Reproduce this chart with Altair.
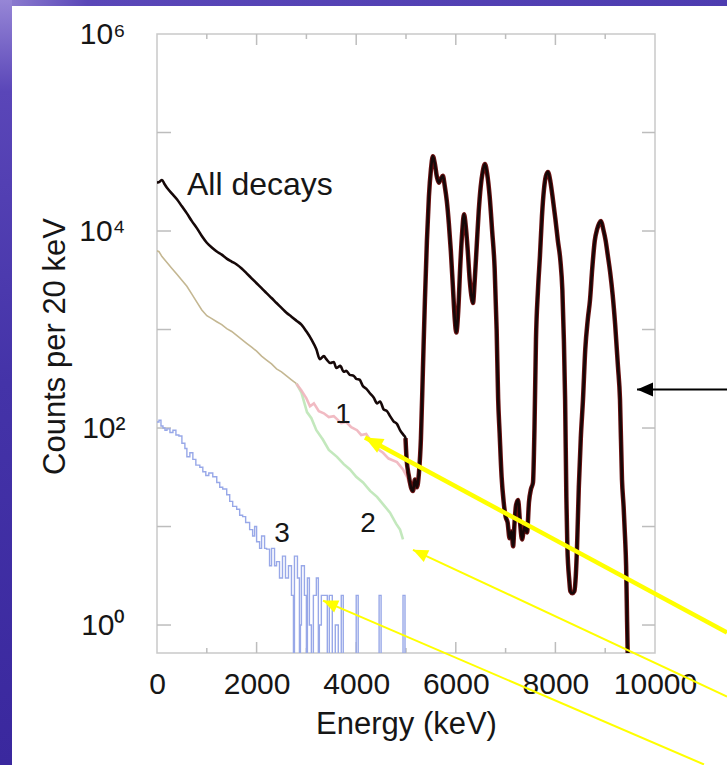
import altair as alt
import pandas as pd

# ---------------- data ----------------
# "All decays" spectrum (energy keV, counts per 20 keV)
all_decays = [
    (0, 31000), (50, 31600), (100, 33000), (150, 30000), (200, 27500), (300, 24000),
    (400, 21000), (500, 17800), (600, 15100), (700, 12600), (800, 10700), (900, 8900),
    (1000, 7600), (1100, 6800), (1200, 6200), (1300, 5750), (1400, 5250), (1500, 4900),
    (1600, 4570), (1700, 4170), (1800, 3720), (1900, 3310), (2000, 2950), (2100, 2630),
    (2200, 2340), (2300, 2090), (2400, 1860), (2500, 1660), (2600, 1480), (2700, 1350),
    (2800, 1230), (2900, 1120), (3000, 955), (3100, 795), (3200, 630), (3270, 500),
    (3350, 537), (3400, 500), (3480, 457), (3550, 468), (3600, 407), (3680, 427),
    (3750, 372), (3800, 380), (3870, 347), (3950, 339), (4000, 316), (4070, 309),
    (4130, 269), (4200, 251), (4280, 224), (4350, 204), (4420, 178), (4480, 186),
    (4550, 155), (4620, 148), (4680, 132), (4750, 117), (4820, 110), (4880, 95),
    (4950, 85), (4990, 79), (5010, 50), (5060, 32), (5100, 25), (5140, 23),
    (5180, 30), (5220, 25), (5260, 35), (5300, 79), (5340, 400), (5380, 2000),
    (5420, 7940), (5460, 22400), (5500, 41700), (5540, 57500), (5580, 47900),
    (5620, 35500), (5660, 30900), (5700, 33900), (5740, 36300), (5780, 28200),
    (5820, 20000), (5860, 12000), (5900, 6300), (5940, 2820), (5980, 1260),
    (6010, 933), (6050, 1580), (6090, 4470), (6130, 10000), (6165, 14800),
    (6200, 11200), (6240, 6300), (6280, 3160), (6320, 2090), (6345, 1860),
    (6380, 3160), (6420, 7080), (6460, 15800), (6500, 28200), (6540, 39800),
    (6586, 47900), (6630, 38000), (6680, 22400), (6730, 10000), (6780, 4170),
    (6820, 1000), (6850, 200), (6880, 89), (6920, 32), (6960, 18), (7000, 12.6),
    (7040, 11), (7080, 7.6), (7120, 8.9), (7150, 6.3), (7180, 11), (7210, 16.6),
    (7250, 18.6), (7290, 11), (7330, 7.4), (7380, 10), (7430, 8.7), (7470, 17.8),
    (7510, 24), (7550, 28), (7580, 100), (7610, 794), (7650, 2510), (7690, 5620),
    (7730, 14100), (7770, 26300), (7810, 36300), (7851, 39800), (7900, 31600),
    (7950, 20900), (8000, 13200), (8050, 7940), (8100, 5010), (8140, 2510),
    (8170, 794), (8195, 195), (8220, 20), (8240, 6.3), (8280, 2.8), (8300, 2.2),
    (8340, 2.1), (8380, 2.2), (8410, 3.2), (8435, 6.3), (8470, 25), (8510, 79),
    (8554, 195), (8600, 631), (8650, 1260), (8695, 2000), (8740, 4170), (8790, 7940),
    (8840, 10500), (8880, 12000), (8916, 12600), (8960, 10500), (9010, 7940),
    (9050, 5750), (9100, 3800), (9150, 2240), (9200, 1120), (9257, 417), (9297, 195),
    (9337, 30), (9370, 15.8), (9398, 7.9), (9420, 4), (9440, 1.07), (9460, 0.3),
]

# common part of spectra 1 and 2 (drawn tan where they overlap)
common_12 = [
    (0, 6300), (40, 6170), (100, 5500), (200, 4790), (300, 4170), (400, 3630),
    (500, 3160), (600, 2750), (700, 2290), (800, 1900), (900, 1580), (1000, 1380),
    (1100, 1290), (1200, 1200), (1300, 1120), (1400, 1020), (1500, 955), (1600, 871),
    (1700, 794), (1800, 724), (1900, 661), (2000, 603), (2100, 537), (2200, 490),
    (2300, 447), (2400, 398), (2500, 372), (2600, 339), (2700, 309), (2800, 282),
]

# spectrum 1 (pink)
series_1 = [
    (2800, 282), (2900, 240), (3000, 200), (3072, 166), (3150, 178), (3250, 148),
    (3350, 141), (3450, 129), (3550, 132), (3614, 123), (3700, 112), (3800, 115),
    (3900, 102), (4016, 95), (4100, 85), (4200, 87), (4277, 76), (4400, 63),
    (4538, 56), (4650, 49), (4819, 45), (4940, 38), (5020, 32), (5080, 26),
]

# spectrum 2 (green)
series_2 = [
    (2800, 282), (2900, 229), (3012, 145), (3100, 126), (3200, 95), (3333, 76),
    (3450, 60), (3614, 51), (3750, 43), (3875, 38), (4000, 32), (4137, 28),
    (4280, 23), (4418, 20), (4550, 16.6), (4679, 13.8), (4800, 10.7), (4880, 9.3),
    (4940, 7.4),
]

# spectrum 3 (blue histogram, 0 = empty bin)
series_3 = [
    (0, 115), (40, 120), (80, 105), (120, 100), (160, 95), (200, 98), (260, 90),
    (320, 95), (380, 85), (440, 83), (500, 70), (560, 62), (600, 51), (660, 56),
    (720, 48), (780, 42), (860, 40), (920, 36), (980, 33), (1040, 35), (1120, 32),
    (1200, 28), (1260, 25), (1320, 24), (1400, 21), (1460, 18), (1520, 16),
    (1600, 15), (1660, 13), (1720, 12.6), (1780, 11), (1860, 9.3), (1920, 8),
    (1960, 10), (2000, 7), (2060, 6), (2100, 8), (2160, 6), (2200, 5.9), (2260, 4),
    (2300, 6), (2360, 4), (2400, 4.4), (2460, 3), (2520, 5), (2580, 3), (2640, 4),
    (2700, 2), (2740, 0), (2760, 5), (2820, 3), (2860, 0), (2880, 1), (2900, 4),
    (2960, 2), (3000, 0), (3020, 3), (3060, 1), (3100, 0), (3140, 2), (3200, 3),
    (3240, 0), (3260, 1), (3300, 2), (3360, 2), (3420, 0), (3460, 2), (3520, 0),
    (3580, 1), (3640, 0), (3700, 2), (3740, 0), (4000, 2), (4040, 0), (4460, 2),
    (4500, 0), (4940, 2), (4980, 0),
]

# axis ticks
x_tick_labels = [0, 2000, 4000, 6000, 8000, 10000]
x_major_ticks = [2000, 4000, 6000, 8000]
x_minor_ticks = [1000, 3000, 5000, 7000, 9000]
y_label_values = [1, 100, 10000, 1000000]
y_ticks = [1, 10, 100, 1000, 10000, 100000]

# text labels
label_text = ["1", "2", "3"]
label_E = [3735, 4237, 2510]
label_c = [137, 10.5, 8.3]
title_text = ["All decays"]
title_E = [602]
title_c = [29650]

# annotation arrows (tip and tail, in data units)
arrow_tip_E = [9639, 4177, 5140, 3333]
arrow_tip_c = [246, 80, 5.8, 1.77]
arrow_tail_E = [11446, 11446, 11446, 10984]
arrow_tail_c = [246, 0.84, 0.188, 0.0384]
arrow_color = ["#000000", "#ffff00", "#ffff00", "#ffff00"]
arrow_width = [2, 4.5, 2, 2]
arrow_angle = [270, 298, 295, 293]
arrow_head = [400, 500, 350, 350]

# ---------------- chart ----------------
FONT = "Liberation Sans"
W, H = 498, 619

xs = alt.Scale(domain=[0, 10000], nice=False, zero=False)
ys = alt.Scale(type="log", domain=[0.52, 1e6], nice=False)

x_axis = alt.Axis(
    values=x_tick_labels, format="d", title="Energy (keV)", grid=False, domain=False,
    ticks=False, tickSize=0, labelFontSize=30, labelPadding=40, labelBaseline="alphabetic",
    labelColor="#161616", labelFont=FONT, labelFlush=False, labelOverlap=False,
    titleFontSize=31, titleFontWeight="normal", titleColor="#161616", titleFont=FONT,
    titleBaseline="alphabetic", titleY=80, titleX=W / 2,
)
y_axis = alt.Axis(
    values=y_label_values,
    labelExpr="datum.value == 1 ? '10\u2070' : datum.value == 100 ? '10\u00b2' : "
              "datum.value == 10000 ? '10\u2074' : '10\u2076'",
    title="Counts per 20 keV", grid=False, domain=False, ticks=False, tickSize=0,
    labelFontSize=30, labelPadding=32, labelAlign="right", labelBaseline="middle",
    labelColor="#161616", labelFont=FONT, labelFlush=False, labelOverlap=False,
    titleFontSize=31, titleFontWeight="normal", titleColor="#161616", titleFont=FONT,
    titleX=-93, titleY=312, titleBaseline="alphabetic", titleAngle=270, titleAlign="center",
)


def df_pairs(pairs):
    return pd.DataFrame(pairs, columns=["E", "c"])


def X(field="E"):
    return alt.X(f"{field}:Q", scale=xs, axis=x_axis)


def Y(field="c"):
    return alt.Y(f"{field}:Q", scale=ys, axis=y_axis)


one = pd.DataFrame({"k": [0]})

frame_top = alt.Chart(one).mark_rect(
    color=alt.LinearGradient(
        gradient="linear", x1=0, x2=1, y1=0, y2=0,
        stops=[alt.GradientStop(color="#9282d2", offset=0),
               alt.GradientStop(color="#5a47b8", offset=0.12),
               alt.GradientStop(color="#4d3cb0", offset=1)]),
    clip=False,
).encode(x=alt.value(-157), x2=alt.value(W + 72), y=alt.value(-34), y2=alt.value(-28))

frame_left = alt.Chart(one).mark_rect(
    color=alt.LinearGradient(
        gradient="linear", x1=0, x2=0, y1=0, y2=1,
        stops=[alt.GradientStop(color="#9686d6", offset=0),
               alt.GradientStop(color="#5a46b8", offset=0.12),
               alt.GradientStop(color="#4433a8", offset=0.5),
               alt.GradientStop(color="#3a289e", offset=1)]),
    clip=False,
).encode(x=alt.value(-157), x2=alt.value(-145), y=alt.value(-34), y2=alt.value(H + 112))

tick_color = "#bdbdbd"
ydf = pd.DataFrame({"c": y_ticks})
yt_left = alt.Chart(ydf).mark_rule(color=tick_color, strokeWidth=1.5).encode(
    y=Y("c"), x=alt.value(0), x2=alt.value(14))
yt_right = alt.Chart(ydf).mark_rule(color=tick_color, strokeWidth=1.5).encode(
    y=Y("c"), x=alt.value(W), x2=alt.value(W - 13))
xmaj = pd.DataFrame({"E": x_major_ticks})
xmin = pd.DataFrame({"E": x_minor_ticks})
xt_bot = alt.Chart(xmaj).mark_rule(color=tick_color, strokeWidth=1.5).encode(
    x=X("E"), y=alt.value(H), y2=alt.value(H - 11))
xt_top = alt.Chart(xmaj).mark_rule(color=tick_color, strokeWidth=1.5).encode(
    x=X("E"), y=alt.value(0), y2=alt.value(11))
xm_bot = alt.Chart(xmin).mark_rule(color=tick_color, strokeWidth=1.5).encode(
    x=X("E"), y=alt.value(H), y2=alt.value(H - 5))
xm_top = alt.Chart(xmin).mark_rule(color=tick_color, strokeWidth=1.5).encode(
    x=X("E"), y=alt.value(0), y2=alt.value(5))

black = alt.Chart(df_pairs(all_decays)).mark_line(
    color="#160808", strokeWidth=2.6, interpolate="monotone", clip=True).encode(x=X(), y=Y())

tan = alt.Chart(df_pairs(common_12)).mark_line(
    color="#c4b792", strokeWidth=1.6, clip=True).encode(x=X(), y=Y())
pink = alt.Chart(df_pairs(series_1)).mark_line(
    color="#f0b4bd", strokeWidth=2.6, opacity=0.9, clip=True).encode(x=X(), y=Y())
green = alt.Chart(df_pairs(series_2)).mark_line(
    color="#bde6b6", strokeWidth=2.6, opacity=0.9, clip=True).encode(x=X(), y=Y())
blue = alt.Chart(df_pairs(series_3)).transform_calculate(
    c="datum.c > 0 ? datum.c : 0.05"
).mark_line(color="#98a8e8", strokeWidth=1.4, interpolate="step-after", clip=True).encode(
    x=X(), y=Y())

red_under = alt.Chart(df_pairs(all_decays)).transform_filter(
    "datum.E >= 4980"
).mark_line(color="#6a1212", strokeWidth=4.5, interpolate="monotone", clip=True).encode(
    x=X(), y=Y())

num_labels = alt.Chart(pd.DataFrame({"t": label_text, "E": label_E, "c": label_c})).mark_text(
    font=FONT, fontSize=28, color="#161616", align="center", baseline="middle").encode(
    x=X(), y=Y(), text="t:N")
all_label = alt.Chart(pd.DataFrame({"t": title_text, "E": title_E, "c": title_c})).mark_text(
    font=FONT, fontSize=32, color="#161616", align="left", baseline="middle").encode(
    x=X(), y=Y(), text="t:N")

arrows_df = pd.DataFrame({
    "E": arrow_tip_E, "c": arrow_tip_c, "E2": arrow_tail_E, "c2": arrow_tail_c,
    "col": arrow_color, "w": arrow_width, "ang": arrow_angle, "sz": arrow_head,
})
arrow_lines = alt.Chart(arrows_df).mark_rule(clip=False, strokeCap="butt").encode(
    x=X(), y=Y(), x2="E2:Q", y2="c2:Q",
    color=alt.Color("col:N", scale=None),
    strokeWidth=alt.StrokeWidth("w:Q", scale=None),
)
arrow_heads = alt.Chart(arrows_df).mark_point(
    shape="M0,0L0.7,1.6L-0.7,1.6Z", filled=True, opacity=1, strokeWidth=0, clip=False).encode(
    x=X(), y=Y(),
    color=alt.Color("col:N", scale=None),
    angle=alt.Angle("ang:Q", scale=None),
    size=alt.Size("sz:Q", scale=None),
)

chart = alt.layer(
    frame_top, frame_left,
    yt_left, yt_right, xt_bot, xt_top, xm_bot, xm_top,
    tan, blue, green, pink, red_under, black,
    all_label, num_labels,
    arrow_lines, arrow_heads,
).properties(
    width=W, height=H,
    padding={"left": 157, "top": 34, "right": 72, "bottom": 112},
    autosize=alt.AutoSizeParams(type="none"),
    background="#ffffff",
).configure(font=FONT).configure_view(stroke="#c9c9c9", strokeWidth=1.5)

chart.save("out.html", embed_options={"renderer": "svg", "actions": False})
